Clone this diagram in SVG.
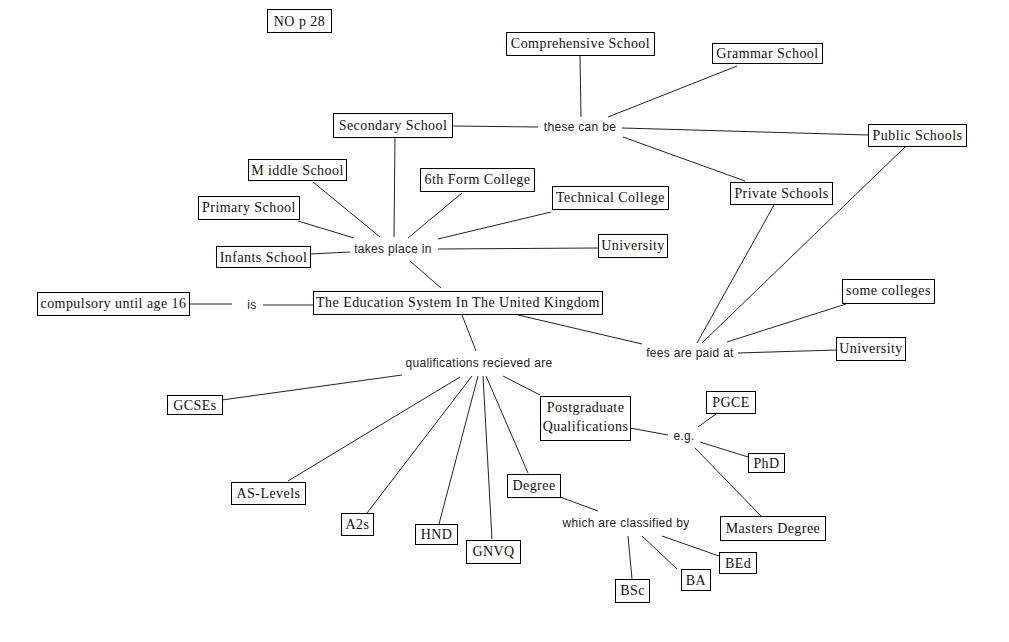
<svg xmlns="http://www.w3.org/2000/svg" width="1009" height="642" viewBox="0 0 1009 642">
<style>
.n rect{fill:#fff;stroke:#000;stroke-width:1}
.n text{font-family:"Liberation Serif",serif;font-size:14px;letter-spacing:0.45px;fill:#111;text-anchor:middle}
.l{font-family:"Liberation Sans",Arial,sans-serif;font-size:12px;letter-spacing:0.3px;fill:#222;text-anchor:middle}
#connectors line{stroke:#222;stroke-width:1}
</style>
<rect width="1009" height="642" fill="#fff"/>
<g id="connectors">
<line x1="452" y1="126" x2="538" y2="127"/>
<line x1="622" y1="128" x2="868" y2="135"/>
<line x1="580" y1="56" x2="581" y2="117"/>
<line x1="737" y1="66" x2="608" y2="117"/>
<line x1="623" y1="137" x2="745" y2="181"/>
<line x1="905" y1="147" x2="702" y2="343"/>
<line x1="774" y1="205" x2="697" y2="343"/>
<line x1="846" y1="304" x2="727" y2="342"/>
<line x1="738" y1="353" x2="836" y2="350"/>
<line x1="518" y1="315" x2="642" y2="344"/>
<line x1="395" y1="137" x2="394" y2="237"/>
<line x1="313" y1="182" x2="380" y2="237"/>
<line x1="462" y1="193" x2="408" y2="238"/>
<line x1="551" y1="212" x2="438" y2="239"/>
<line x1="298" y1="221" x2="354" y2="238"/>
<line x1="310" y1="254" x2="350" y2="252"/>
<line x1="438" y1="249" x2="598" y2="248"/>
<line x1="410" y1="261" x2="441" y2="288"/>
<line x1="189" y1="304" x2="232" y2="304"/>
<line x1="263" y1="305" x2="313" y2="305"/>
<line x1="462" y1="315" x2="476" y2="351"/>
<line x1="402" y1="375" x2="222" y2="400"/>
<line x1="460" y1="377" x2="288" y2="481"/>
<line x1="472" y1="376" x2="367" y2="513"/>
<line x1="478" y1="376" x2="439" y2="524"/>
<line x1="483" y1="376" x2="492" y2="539"/>
<line x1="486" y1="376" x2="528" y2="473"/>
<line x1="503" y1="376" x2="540" y2="395"/>
<line x1="630" y1="428" x2="668" y2="435"/>
<line x1="698" y1="427" x2="716" y2="414"/>
<line x1="700" y1="442" x2="748" y2="457"/>
<line x1="695" y1="448" x2="761" y2="516"/>
<line x1="560" y1="497" x2="598" y2="511"/>
<line x1="628" y1="536" x2="632" y2="579"/>
<line x1="642" y1="536" x2="677" y2="569"/>
<line x1="662" y1="536" x2="719" y2="556"/>
</g>
<g id="labels">
<text class="l" x="580" y="131">these can be</text>
<text class="l" x="393" y="253">takes place in</text>
<text class="l" x="252" y="309">is</text>
<text class="l" x="690" y="357">fees are paid at</text>
<text class="l" x="479" y="367">qualifications recieved are</text>
<text class="l" x="684" y="440">e.g.</text>
<text class="l" x="626" y="527">which are classified by</text>
</g>
<g id="n-nop28" class="n"><rect x="267.5" y="9.5" width="64" height="23"/><text x="299.5" y="26">NO p 28</text></g>
<g id="n-secondary" class="n"><rect x="333.5" y="113.5" width="119" height="24"/><text x="393" y="130">Secondary School</text></g>
<g id="n-middle" class="n"><rect x="248.5" y="159.5" width="98" height="21"/><text x="297.5" y="175">M iddle School</text></g>
<g id="n-6th" class="n"><rect x="420.5" y="168.5" width="114" height="23"/><text x="477.5" y="184">6th Form College</text></g>
<g id="n-primary" class="n"><rect x="198.5" y="196.5" width="101" height="23"/><text x="249" y="212">Primary School</text></g>
<g id="n-infants" class="n"><rect x="216.5" y="246.5" width="94" height="21"/><text x="263.5" y="262">Infants School</text></g>
<g id="n-compulsory" class="n"><rect x="37.5" y="292.5" width="152" height="23"/><text x="113.5" y="308">compulsory until age 16</text></g>
<g id="n-edu" class="n"><rect x="313.5" y="291.5" width="289" height="23"/><text x="458" y="307">The Education System In The United Kingdom</text></g>
<g id="n-comprehensive" class="n"><rect x="506.5" y="32.5" width="148" height="23"/><text x="580.5" y="48">Comprehensive School</text></g>
<g id="n-grammar" class="n"><rect x="712.5" y="43.5" width="110" height="20"/><text x="767.5" y="58">Grammar School</text></g>
<g id="n-public" class="n"><rect x="868.5" y="124.5" width="98" height="22"/><text x="917.5" y="140">Public Schools</text></g>
<g id="n-private" class="n"><rect x="730.5" y="182.5" width="102" height="22"/><text x="781.5" y="198">Private Schools</text></g>
<g id="n-technical" class="n"><rect x="552.5" y="186.5" width="116" height="23"/><text x="610.5" y="202">Technical College</text></g>
<g id="n-uni1" class="n"><rect x="598.5" y="234.5" width="69" height="23"/><text x="633" y="250">University</text></g>
<g id="n-colleges" class="n"><rect x="842.5" y="279.5" width="92" height="24"/><text x="888.5" y="295">some colleges</text></g>
<g id="n-uni2" class="n"><rect x="836.5" y="337.5" width="69" height="23"/><text x="871" y="353">University</text></g>
<g id="n-gcses" class="n"><rect x="167.5" y="395.5" width="55" height="19"/><text x="195" y="410">GCSEs</text></g>
<g id="n-aslevels" class="n"><rect x="231.5" y="482.5" width="74" height="22"/><text x="268.5" y="498">AS-Levels</text></g>
<g id="n-a2s" class="n"><rect x="341.5" y="513.5" width="32" height="22"/><text x="357.5" y="529">A2s</text></g>
<g id="n-hnd" class="n"><rect x="415.5" y="524.5" width="42" height="20"/><text x="436.5" y="539">HND</text></g>
<g id="n-gnvq" class="n"><rect x="466.5" y="540.5" width="54" height="23"/><text x="493.5" y="556">GNVQ</text></g>
<g id="n-postgrad" class="n"><rect x="540.5" y="396.5" width="90" height="44"/><text x="585.5" y="412">Postgraduate</text><text x="585.5" y="431">Qualifications</text></g>
<g id="n-degree" class="n"><rect x="507.5" y="474.5" width="53" height="23"/><text x="534" y="490">Degree</text></g>
<g id="n-pgce" class="n"><rect x="706.5" y="391.5" width="49" height="22"/><text x="731" y="407">PGCE</text></g>
<g id="n-phd" class="n"><rect x="748.5" y="453.5" width="36" height="19"/><text x="766.5" y="468">PhD</text></g>
<g id="n-masters" class="n"><rect x="720.5" y="516.5" width="105" height="24"/><text x="773" y="533">Masters Degree</text></g>
<g id="n-bed" class="n"><rect x="719.5" y="552.5" width="37" height="21"/><text x="738" y="568">BEd</text></g>
<g id="n-ba" class="n"><rect x="681.5" y="569.5" width="29" height="21"/><text x="696" y="585">BA</text></g>
<g id="n-bsc" class="n"><rect x="615.5" y="579.5" width="34" height="23"/><text x="632.5" y="595">BSc</text></g>
</svg>
